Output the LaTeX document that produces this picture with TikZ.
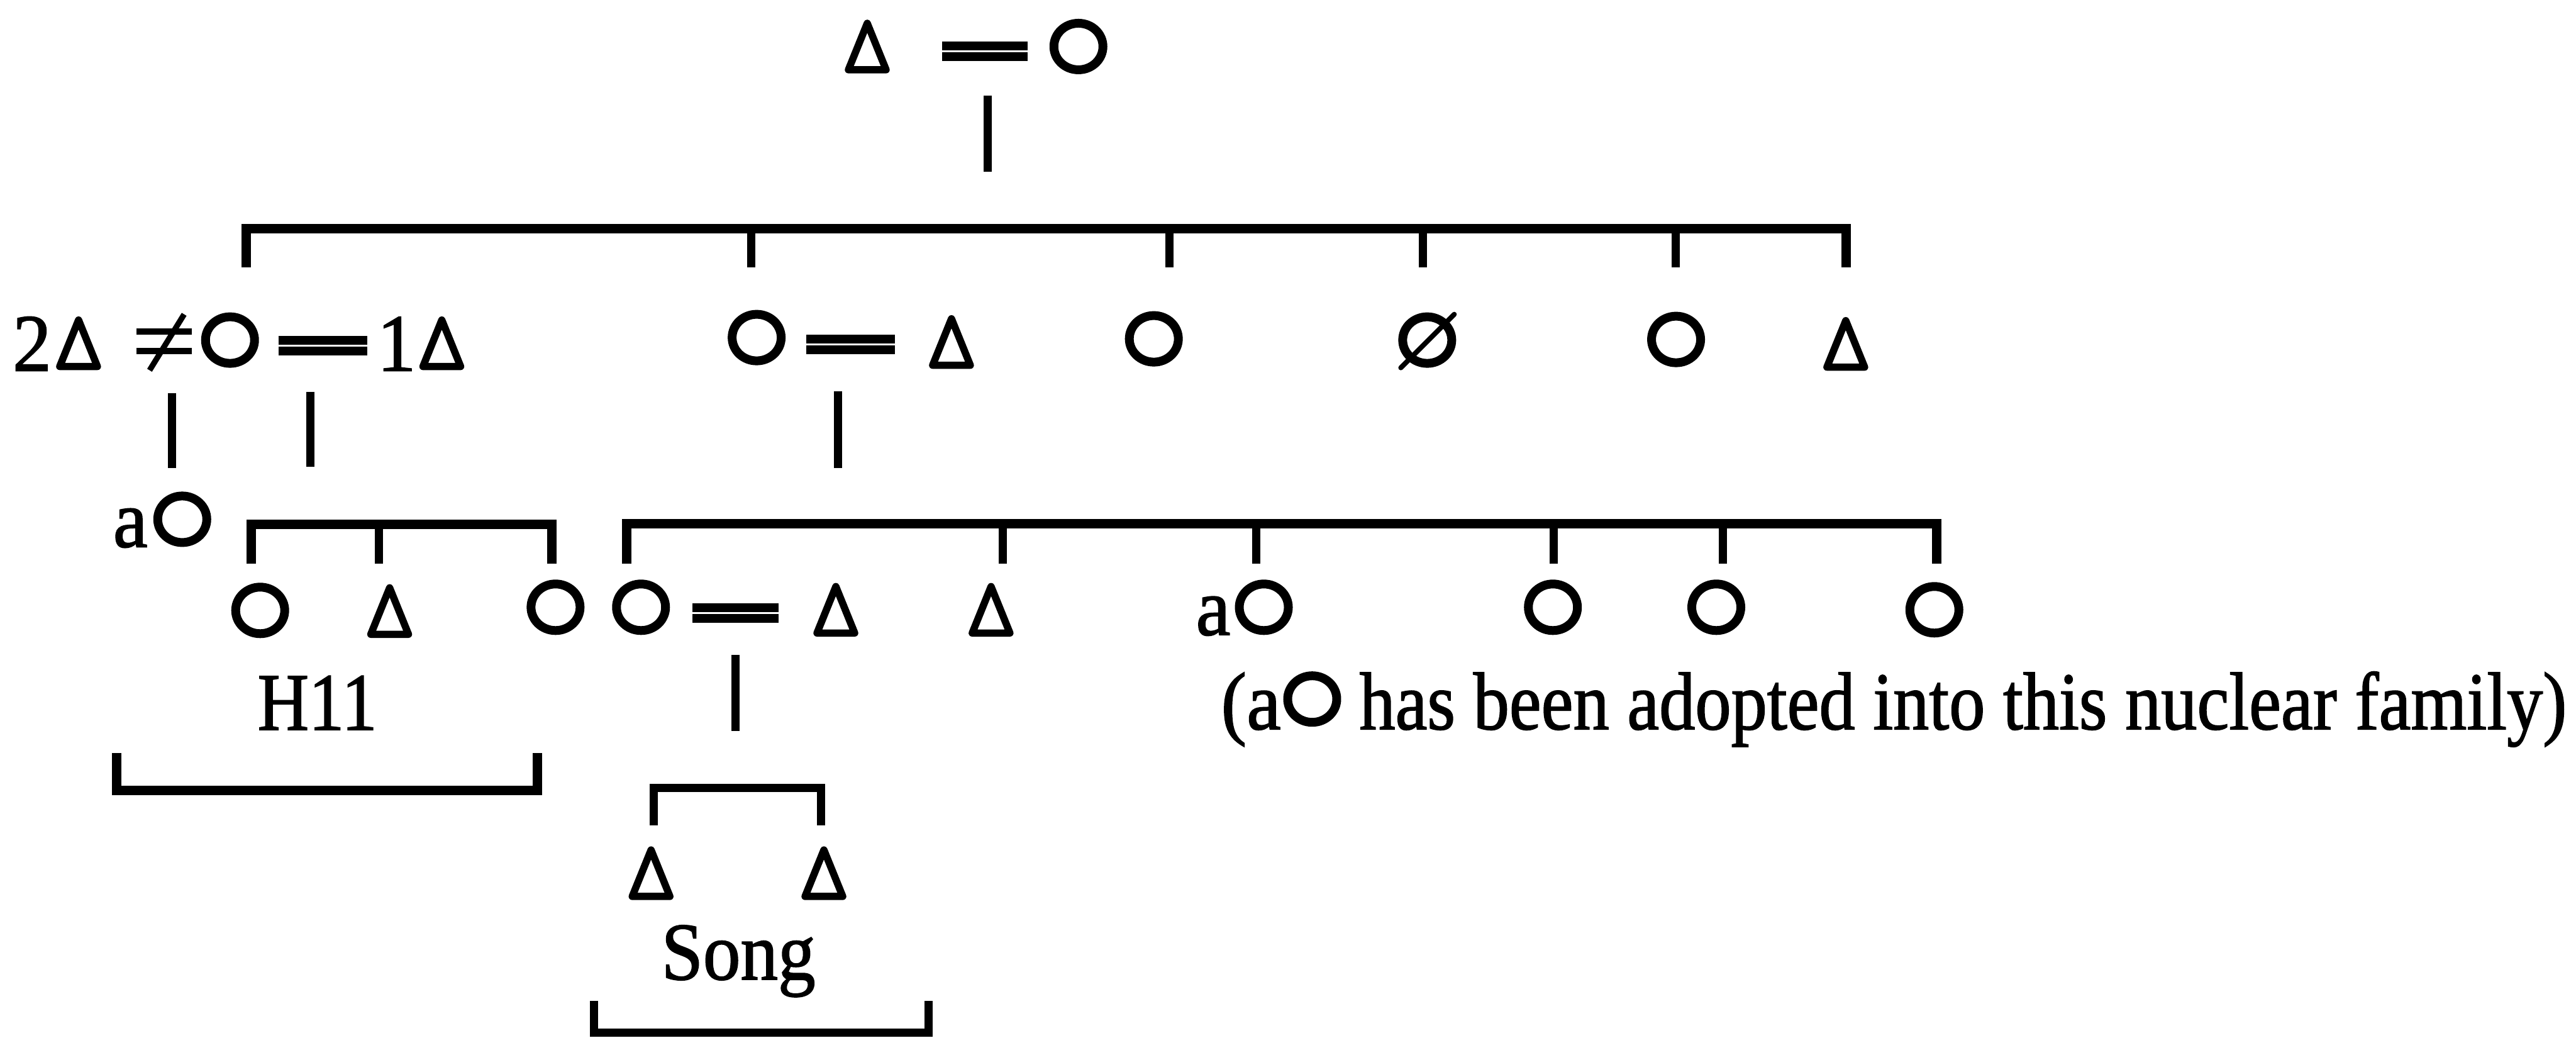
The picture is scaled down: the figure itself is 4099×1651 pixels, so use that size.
\documentclass[tikz,border=0pt]{standalone}
\usepackage{fontspec}
\setmainfont{Liberation Serif}[FakeBold=1.4]
\usepackage{graphicx}
\newcommand\myscale[1]{\scalebox{0.95}[1]{#1}}
\tikzset{
  kin/.style={line width=0.15cm},
  drop/.style={line width=0.13cm},
  marr/.style={double, double distance=0.03cm, line width=0.14cm},
  txt/.style={font=\fontsize{37}{40}\selectfont, inner sep=0pt, outer sep=0pt},
  male/.pic={\draw[line width=0.115cm, line join=round] (0,-37) -- (30,37) -- (-30,37) -- cycle;},
  female/.pic={\draw[line width=0.14cm] (0,0) ellipse [x radius=0.39cm, y radius=0.37cm];},
  deadf/.pic={\draw[line width=0.14cm] (0,0) ellipse [x radius=0.39cm, y radius=0.37cm];
              \draw[line width=0.08cm, line cap=round] (-42,44) -- (43,-41);},
}
\begin{document}
\begin{tikzpicture}[x=0.01cm, y=-0.01cm]
\useasboundingbox (0,0) rectangle (4099,1651);

% ---------- generation 1
\pic (g1m) at (1380,74) {male};
\pic (g1f) at (1716,74) {female};
\coordinate (g1mR) at (1499,82); \coordinate (g1fL) at (1635,82);
\draw[marr] (g1mR) -- (g1fL);
\coordinate (g1d1) at (1572,152); \coordinate (g1d2) at (1572,273);
\draw[drop] (g1d1) -- (g1d2);

% ---------- sibship of generation 2
\coordinate (s1a) at (392,425); \coordinate (s1b) at (392,364);
\coordinate (s1c) at (2938,364); \coordinate (s1d) at (2938,425);
\draw[kin] (s1a) -- (s1b) -- (s1c) -- (s1d);
\foreach \x/\n in {1195/a,1861/b,2264/c,2666/d}{
  \coordinate (s1t\n) at (\x,364); \coordinate (s1u\n) at (\x,425);
  \draw[drop] (s1t\n) -- (s1u\n);
}

% ---------- generation 2
\node[txt, anchor=base west] (two) at (20,590) {\myscale{2}};
\pic (g2h2) at (125,546) {male};
% divorce sign
\coordinate (ne1) at (217,527); \coordinate (ne2) at (305,527);
\coordinate (ne3) at (217,558); \coordinate (ne4) at (305,558);
\coordinate (ne5) at (238,589); \coordinate (ne6) at (293,500);
\draw[line width=0.10cm] (ne1) -- (ne2) (ne3) -- (ne4);
\draw[line width=0.09cm] (ne5) -- (ne6);
\pic (g2w) at (366,541) {female};
\coordinate (m2aL) at (443,550); \coordinate (m2aR) at (584,550);
\draw[marr] (m2aL) -- (m2aR);
\node[txt, anchor=base west] (one) at (600,590) {\myscale{1}};
\pic (g2h1) at (703,546) {male};

\pic (g2d) at (1204,537) {female};
\coordinate (m2bL) at (1283,548); \coordinate (m2bR) at (1424,548);
\draw[marr] (m2bL) -- (m2bR);
\pic (g2dh) at (1514,544) {male};
\pic (g2e) at (1836,539) {female};
\pic (g2f) at (2271,541) {deadf};
\pic (g2g) at (2667,540) {female};
\pic (g2h) at (2937,547) {male};

% descent lines
\coordinate (v1a) at (274,625); \coordinate (v1b) at (274,745);
\coordinate (v2a) at (494,623); \coordinate (v2b) at (494,743);
\coordinate (v3a) at (1333,622); \coordinate (v3b) at (1333,745);
\draw[drop] (v1a) -- (v1b);
\draw[drop] (v2a) -- (v2b);
\draw[drop] (v3a) -- (v3b);

% ---------- generation 3
\node[txt, anchor=base west] (aone) at (180,870) {\myscale{a}};
\pic (g3a) at (290,826) {female};

\coordinate (s2a) at (400,897); \coordinate (s2b) at (400,834);
\coordinate (s2c) at (878,834); \coordinate (s2d) at (878,897);
\draw[kin] (s2a) -- (s2b) -- (s2c) -- (s2d);
\coordinate (s2t) at (603,834); \coordinate (s2u) at (603,897);
\draw[drop] (s2t) -- (s2u);

\coordinate (s3a) at (997,897); \coordinate (s3b) at (997,833);
\coordinate (s3c) at (3082,833); \coordinate (s3d) at (3082,897);
\draw[kin] (s3a) -- (s3b) -- (s3c) -- (s3d);
\foreach \x/\n in {1596/a,1999/b,2472/c,2741/d}{
  \coordinate (s3t\n) at (\x,833); \coordinate (s3u\n) at (\x,897);
  \draw[drop] (s3t\n) -- (s3u\n);
}

\pic (g3b) at (414,971) {female};
\pic (g3c) at (620,972) {male};
\pic (g3d) at (884,966) {female};

\pic (g3e) at (1020,966) {female};
\coordinate (m3L) at (1102,975); \coordinate (m3R) at (1239,975);
\draw[marr] (m3L) -- (m3R);
\pic (g3eh) at (1330,970) {male};
\pic (g3f) at (1577,970) {male};
\node[txt, anchor=base west] (atwo) at (1903,1010) {\myscale{a}};
\pic (g3g) at (2011,966) {female};
\pic (g3h) at (2471,966) {female};
\pic (g3i) at (2731,966) {female};
\pic (g3j) at (3078,970) {female};

\coordinate (v4a) at (1170,1042); \coordinate (v4b) at (1170,1163);
\draw[drop] (v4a) -- (v4b);

% H11 group
\node[txt, anchor=base] (hone) at (505,1161) {\resizebox{1.9cm}{\height}{H11}};
\coordinate (h1a) at (186,1198); \coordinate (h1b) at (186,1257);
\coordinate (h1c) at (855,1257); \coordinate (h1d) at (855,1198);
\draw[kin] (h1a) -- (h1b) -- (h1c) -- (h1d);

% note
\node[txt, anchor=base west] (nt1) at (1943,1160) {\resizebox{0.95cm}{\height}{(a}};
\pic (ntc) at (2088,1112) {female};
\node[txt, anchor=base west] (nt2) at (2163,1160)
  {\resizebox{19.2cm}{\height}{has been adopted into this nuclear family)}};

% ---------- generation 4
\coordinate (s4a) at (1040,1313); \coordinate (s4b) at (1040,1253);
\coordinate (s4c) at (1306,1253); \coordinate (s4d) at (1306,1313);
\draw[drop] (s4a) -- (s4b) -- (s4c) -- (s4d);
\pic (g4a) at (1036,1389) {male};
\pic (g4b) at (1311,1389) {male};
\node[txt, anchor=base] (song) at (1175,1558) {\resizebox{2.45cm}{\height}{Song}};
\coordinate (sg1) at (945,1592); \coordinate (sg2) at (945,1643);
\coordinate (sg3) at (1478,1643); \coordinate (sg4) at (1478,1592);
\draw[drop] (sg1) -- (sg2) -- (sg3) -- (sg4);
\end{tikzpicture}
\end{document}
